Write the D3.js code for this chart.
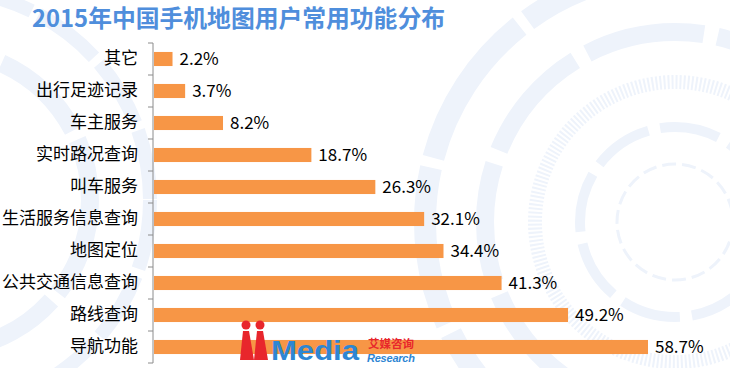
<!DOCTYPE html>
<html>
<head>
<meta charset="utf-8">
<script src="https://cdn.jsdelivr.net/npm/d3@7"></script>
<style>
  body { margin: 0; background: #fff; }
  text { font-family: "Microsoft YaHei", "Noto Sans CJK SC", sans-serif; }
</style>
</head>
<body>
<div id="vizContainer"></div>
<script>
let w = 730;
let h = 368;

// data
let categories = ["其它", "出行足迹记录", "车主服务", "实时路况查询", "叫车服务",
  "生活服务信息查询", "地图定位", "公共交通信息查询", "路线查询", "导航功能"];
let values = [2.2, 3.7, 8.2, 18.7, 26.3, 32.1, 34.4, 41.3, 49.2, 58.7];
let titleText = "2015年中国手机地图用户常用功能分布";

let data = categories.map((c, i) => ({ name: c, value: values[i] }));

let viz = d3.select("#vizContainer").append("svg")
    .attr("width", w)
    .attr("height", h)
    .style("background-color", "white")
;

// background decoration (faint rings)
let deco = viz.append("g").attr("class", "deco");
let ringColor = "#EEF3FB";
let rings = [
  { cx: 675, cy: 222, r: 58, sw: 3, dash: "14 6" },
  { cx: 675, cy: 222, r: 95, sw: 10, dash: "60 12" },
  { cx: 675, cy: 222, r: 140, sw: 14, dash: "2 2" },
  { cx: 675, cy: 222, r: 190, sw: 18, dash: "120 14" },
  { cx: 675, cy: 222, r: 250, sw: 22, dash: "160 10" },
  { cx: -60, cy: 200, r: 150, sw: 18, dash: "100 10" },
  { cx: -60, cy: 200, r: 210, sw: 14, dash: "70 8" }
];
rings.forEach(r => {
  deco.append("circle")
    .attr("cx", r.cx).attr("cy", r.cy).attr("r", r.r)
    .attr("fill", "none")
    .attr("stroke", ringColor)
    .attr("stroke-width", r.sw)
    .attr("stroke-dasharray", r.dash);
});

// title
viz.append("text")
    .attr("x", 32)
    .attr("y", 27)
    .attr("font-size", 23.5)
    .attr("font-weight", "bold")
    .attr("fill", "#4F8EDC")
    .attr("textLength", 413)
    .attr("lengthAdjust", "spacingAndGlyphs")
    .text(titleText)
;

let left = 153;
let xScale = d3.scaleLinear().domain([0, 58.7]).range([left, 647]);
let yScale = d3.scaleBand().domain(categories).range([43, 363]).paddingInner(0.56).paddingOuter(0.28);

// y axis
let yAxis = d3.axisLeft(yScale).tickSize(0).tickPadding(15);
let yAxisGroup = viz.append("g")
    .attr("class", "yaxis")
    .attr("transform", "translate(" + left + ",0)")
    .call(yAxis)
;
yAxisGroup.select(".domain").attr("stroke", "#8C8C8C").attr("d", "M0,43V363");
yAxisGroup.selectAll("text")
    .attr("font-size", 17)
    .attr("fill", "#000")
    .style("font-family", "'Microsoft YaHei', 'Noto Sans CJK SC', sans-serif")
;
// tick marks between categories
let bounds = d3.range(categories.length + 1).map(i => 43 + i * yScale.step());
yAxisGroup.selectAll(".sep").data(bounds).enter()
  .append("line")
    .attr("class", "sep")
    .attr("x1", -5).attr("x2", 0)
    .attr("y1", d => d).attr("y2", d => d)
    .attr("stroke", "#8C8C8C")
;

// bars
let bars = viz.append("g").attr("class", "bars");
bars.selectAll("rect").data(data).enter()
  .append("rect")
    .attr("x", left + 1)
    .attr("y", d => yScale(d.name))
    .attr("width", d => xScale(d.value) - left)
    .attr("height", yScale.bandwidth())
    .attr("fill", "#F79646")
;

// value labels
bars.selectAll(".val").data(data).enter()
  .append("text")
    .attr("class", "val")
    .attr("x", d => xScale(d.value) + 8)
    .attr("y", d => yScale(d.name) + yScale.bandwidth() / 2)
    .attr("dy", "0.36em")
    .attr("font-size", 17)
    .attr("fill", "#000")
    .text(d => d.value.toFixed(1) + "%")
;

// logo watermark
let logo = viz.append("g").attr("class", "logo");
logo.append("circle").attr("cx", 246).attr("cy", 325).attr("r", 4.5).attr("fill", "#E8262C");
logo.append("circle").attr("cx", 260).attr("cy", 325).attr("r", 4.5).attr("fill", "#E8262C");
logo.append("path").attr("d", "M243,331 L249,331 L254,360 L240,360 Z").attr("fill", "#E8262C");
logo.append("path").attr("d", "M257,331 L263,331 L268,360 L254,360 Z").attr("fill", "#E8262C");
logo.append("text")
    .attr("x", 271).attr("y", 360)
    .attr("font-size", 27)
    .attr("font-weight", "bold")
    .attr("fill", "#2E86D3")
    .attr("textLength", 88)
    .attr("lengthAdjust", "spacingAndGlyphs")
    .style("font-family", "Arial, 'Liberation Sans', sans-serif")
    .text("Media")
;
logo.append("text")
    .attr("x", 368).attr("y", 348)
    .attr("font-size", 11.5)
    .attr("font-weight", "bold")
    .attr("fill", "#E8262C")
    .text("艾媒咨询")
;
logo.append("text")
    .attr("x", 367).attr("y", 362)
    .attr("font-size", 11)
    .attr("font-style", "italic")
    .attr("font-weight", "bold")
    .attr("fill", "#2E86D3")
    .attr("textLength", 48)
    .style("font-family", "Arial, 'Liberation Sans', sans-serif")
    .text("Research")
;
</script>
</body>
</html>
